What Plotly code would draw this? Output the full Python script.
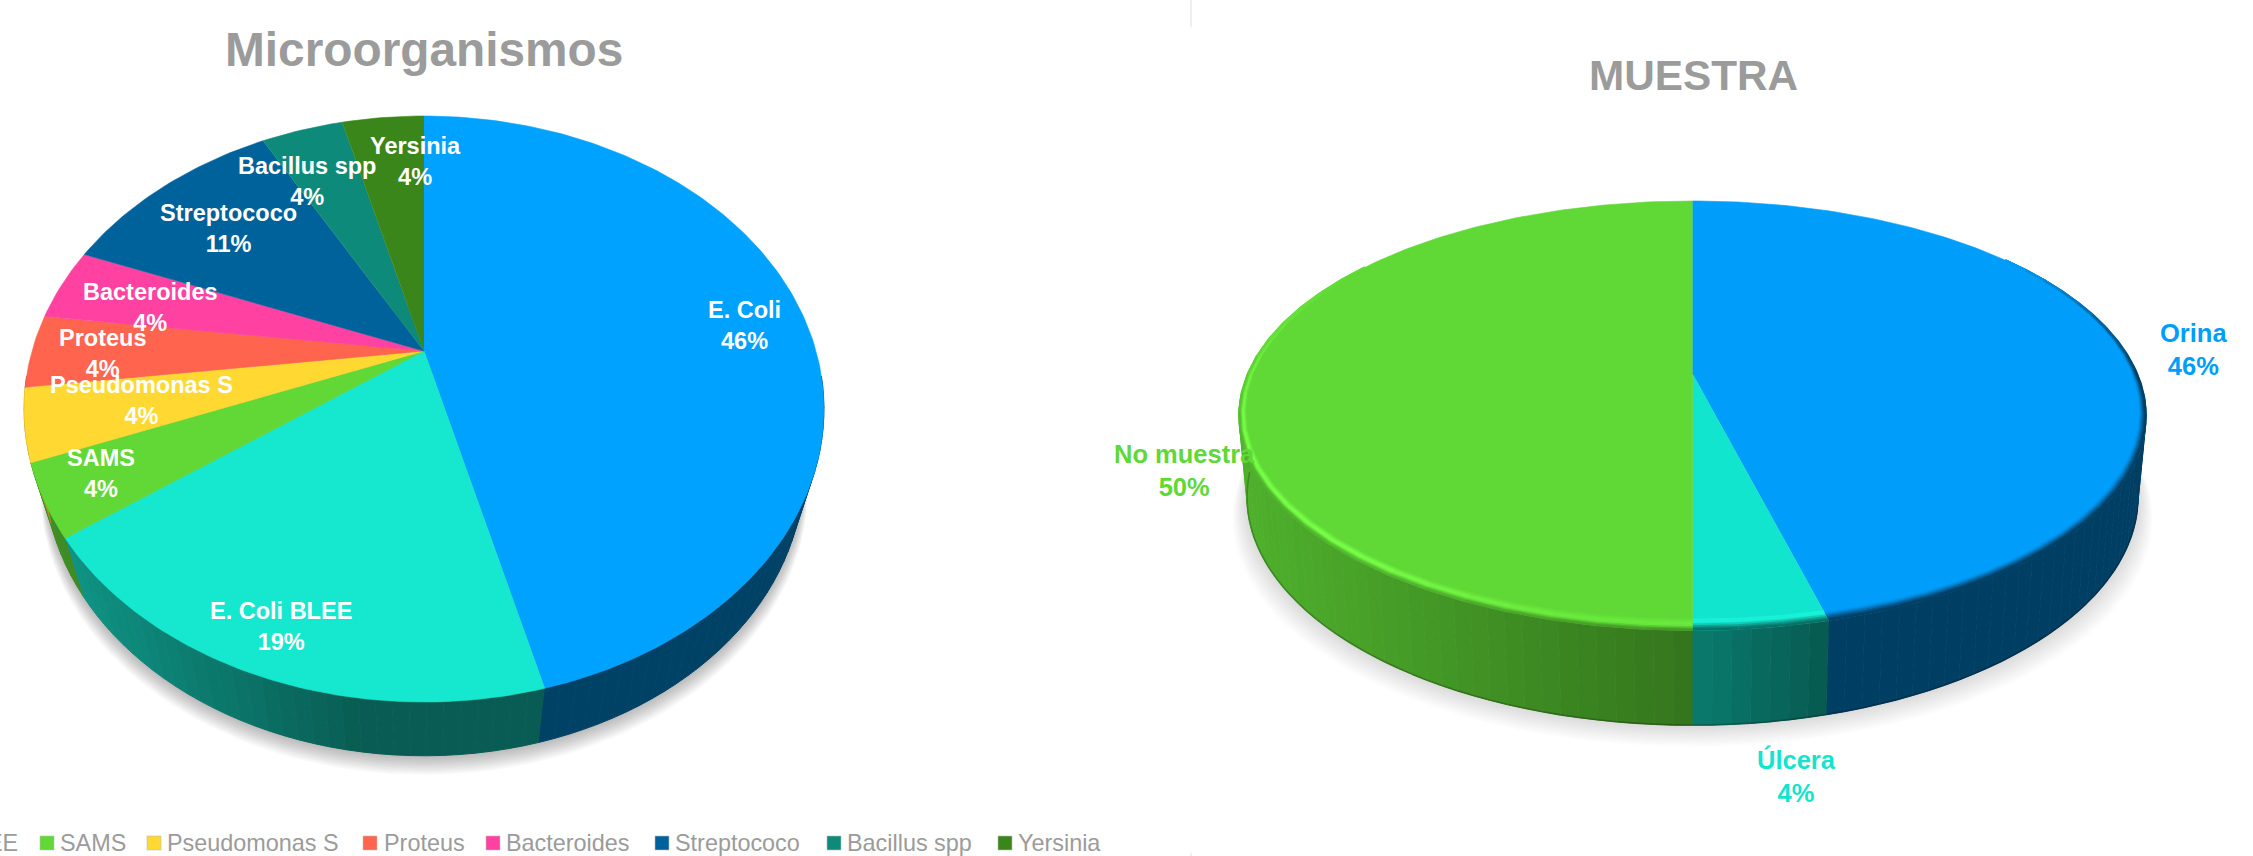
import math
import plotly.graph_objects as go

# Microorganismos: share of isolates, clockwise from twelve o'clock
micro_names = ["E. Coli", "E. Coli BLEE", "SAMS", "Pseudomonas S", "Proteus",
               "Bacteroides", "Streptococo", "Bacillus spp", "Yersinia"]
micro_values = [46, 19, 4, 4, 4, 4, 11, 4, 4]
micro_colors = ["#00A2FF", "#16E7CF", "#61D836", "#FFD932", "#FF644E",
                "#FF42A1", "#00629B", "#0E8A7A", "#3A861A"]

# Muestra: share by sample type
muestra_names = ["Orina", "Úlcera", "No muestra"]
muestra_values = [46, 4, 50]
muestra_colors = ["#009EFB", "#12E5CD", "#60D836"]

TEXT_GREY = "#9B9B9B"
FONT = "Liberation Sans"

# Projection of each disc: unit circle -> screen, with a vanishing term k
left_pie = dict(cx=424, top=(392, 281.5, 351), bottom=(372, 273.7, 414.5), k=0.198)
right_pie = dict(cx=1692.5, top=(445, 206.6, 374), bottom=(437, 219.6, 452.6), k=0.194)


def project(pie, face, angle_deg, r=1.0):
    a, b, y0 = pie[face]
    t = math.radians(angle_deg)
    u, v = r * math.sin(t), r * math.cos(t)
    d = 1 + pie["k"] * v
    return pie["cx"] + a * u / d, y0 - b * v / d


def hex_rgb(c):
    return tuple(int(c[i:i + 2], 16) for i in (1, 3, 5))


def shaded(c, f):
    return "#%02x%02x%02x" % tuple(max(0, min(255, round(x * f))) for x in hex_rgb(c))


def mix(c1, c2, w):
    a, b = hex_rgb(c1), hex_rgb(c2)
    return "#%02x%02x%02x" % tuple(round(x * (1 - w) + y * w) for x, y in zip(a, b))


def clamp(x, lo=0.0, hi=1.0):
    return max(lo, min(hi, x))


def arc(start, end, step=1.0):
    n = max(2, int(abs(end - start) / step) + 1)
    return [start + (end - start) * i / (n - 1) for i in range(n)]


fig = go.Figure()


def polygon(xs, ys, color, line_width=1.0):
    fig.add_trace(go.Scatter(
        x=xs, y=ys, mode="lines", fill="toself", fillcolor=color,
        line=dict(color=color, width=line_width), hoverinfo="skip", showlegend=False))


def polyline(xs, ys, color, width):
    fig.add_trace(go.Scatter(
        x=xs, y=ys, mode="lines", line=dict(color=color, width=width),
        hoverinfo="skip", showlegend=False))


def drop_shadow(pie, layers, alpha, grow, drop):
    a, b, y0 = pie["bottom"]
    for i in range(layers, 0, -1):
        scale_x = (a + grow * i) / a
        xs, ys = [], []
        for ang in arc(60, 300, 2):
            x, y = project(pie, "bottom", ang)
            xs.append(pie["cx"] + (x - pie["cx"]) * scale_x)
            ys.append(y + drop * i)
        polygon(xs, ys, "rgba(0,0,0,%.4f)" % alpha, 0)


def slice_spans(values):
    total = sum(values)
    spans, start = [], 0.0
    for v in values:
        end = start + 360.0 * v / total
        spans.append((start, end))
        start = end
    return spans


def draw_pie(pie, values, colors, shade_fn, half_width, edge_shade=None):
    spans = slice_spans(values)
    # Side wall, only the part that faces the viewer
    for (s, e), col in zip(spans, colors):
        lo, hi = max(s, 95), min(e, 265)
        if lo >= hi:
            continue
        angs = arc(lo, hi, 2)
        for a0, a1 in zip(angs[:-1], angs[1:]):
            p0, p1 = project(pie, "top", a0), project(pie, "top", a1)
            q0, q1 = project(pie, "bottom", a0), project(pie, "bottom", a1)
            t = (0.5 * (p0[0] + p1[0]) - pie["cx"]) / half_width
            wall = shaded(col, shade_fn(t))
            polygon([p0[0], p1[0], q1[0], q0[0]], [p0[1], p1[1], q1[1], q0[1]], wall, 1.0)
            if edge_shade:
                polyline([q0[0], q1[0]], [q0[1], q1[1]], shaded(wall, edge_shade), 1.6)
    # Top face
    for (s, e), col in zip(spans, colors):
        pts = [project(pie, "top", a) for a in arc(s, e)]
        apex = project(pie, "top", 0, 0)
        polygon([apex[0]] + [p[0] for p in pts], [apex[1]] + [p[1] for p in pts], col, 0.6)
    return spans


def inset_point(pie, ang, px):
    """Point on the top rim moved px screen pixels towards the disc centre."""
    x, y = project(pie, "top", ang)
    cx, cy = project(pie, "top", 0, 0)
    dist = math.hypot(x - cx, y - cy)
    return project(pie, "top", ang, 1 - px / dist)


def rim_band(pie, start, end, layers, color_at, inset_at, step=6):
    """Stack of short arcs that imitates a soft bevel along the rim."""
    angs = arc(start, end, step)
    for px, weight in layers:
        for a0, a1 in zip(angs[:-1], angs[1:]):
            mid = 0.5 * (a0 + a1)
            p0 = inset_point(pie, a0, px * inset_at(a0))
            p1 = inset_point(pie, a1, px * inset_at(a1))
            polyline([p0[0], p1[0]], [p0[1], p1[1]], color_at(mid, weight), 2.2)


# ---- Soft shadows under the discs
drop_shadow(left_pie, 12, 0.022, 0.35, 1.6)
drop_shadow(right_pie, 12, 0.012, 1.2, 1.8)


def left_shade(t):
    if t > -0.16:
        return 0.40
    return 0.40 + (-0.16 - t) / 0.84 * 0.27


def right_shade(t):
    if t >= 0.28:
        return 0.40
    if t >= 0:
        return 0.54 - t / 0.28 * 0.14
    return 0.54 - t * 0.28


draw_pie(left_pie, micro_values, micro_colors, left_shade, 400)
right_spans = draw_pie(right_pie, muestra_values, muestra_colors, right_shade, 454, edge_shade=0.78)

# ---- Bevelled rim on the right-hand disc
orina_span, ulcera_span, no_span = right_spans
NAVY = shaded(muestra_colors[0], 0.40)
TEAL_DARK = shaded(muestra_colors[1], 0.50)
BRIGHT_GREEN = "#78FF48"

dark_layers = [(7.5, 0.06), (6.2, 0.18), (5, 0.36), (3.8, 0.55), (2.6, 0.75), (1.4, 0.9), (0.4, 1.0)]
rim_band(right_pie, 52, orina_span[1], dark_layers,
         lambda a, w: mix(muestra_colors[0], NAVY, w * clamp((a - 52) / 38)),
         lambda a: clamp((a - 52) / 60, 0.12, 1.0), step=4)
rim_band(right_pie, ulcera_span[0], ulcera_span[1],
         [(8.5, -0.0), (7, 0.0), (4.6, 0.3), (3.2, 0.6), (1.8, 0.85), (0.5, 1.0)],
         lambda a, w: mix(mix(muestra_colors[1], "#1CF5DC", 0.7), TEAL_DARK, w),
         lambda a: 1.0, step=4)


def green_strength(a):
    # brightest on the lower-left sweep of the rim, dying away towards the top
    return clamp((a - 175) / 45, 0.45, 1.0) * clamp((305 - a) / 50)


def green_rim(a, w):
    s = green_strength(a)
    if w >= 0:
        return mix(muestra_colors[2], BRIGHT_GREEN, w * s)
    wall = shaded(muestra_colors[2], right_shade((project(right_pie, "top", a)[0] - right_pie["cx"]) / 454))
    return mix(mix(muestra_colors[2], BRIGHT_GREEN, 0.6 * s), wall, -w * clamp((a - 175) / 60, 0.75, 1.0) * clamp((285 - a) / 30))


rim_band(right_pie, no_span[0], 305,
         [(9, 0.2), (7.8, 0.5), (6.4, 0.85), (5.2, 1.0), (3.8, 0.8), (2.4, -0.3), (1.2, -0.65), (0.3, -0.9)],
         green_rim, lambda a: clamp((320 - a) / 90, 0.35, 1.0), step=5)

# ---- Legend of the left chart (the first entries run off the page)
legend_swatch_x = [47, 154, 370, 493, 662, 834, 1005]
legend_text_x = [59, 166, 382.5, 505, 674, 846, 1017]
legend_y = 843
fig.add_trace(go.Scatter(
    x=legend_swatch_x, y=[legend_y] * len(legend_swatch_x), mode="markers",
    marker=dict(symbol="square", size=14, color=micro_colors[2:],
                line=dict(color="#BDBDBD", width=0.6)),
    hoverinfo="skip", showlegend=False))

annotations = []


def add_text(x, y, text, size, color, bold=False, xanchor="center"):
    annotations.append(dict(
        x=x, y=y, xref="x", yref="y", text=f"<b>{text}</b>" if bold else text,
        showarrow=False, xanchor=xanchor, yanchor="middle", align="center",
        font=dict(family=FONT, size=size, color=color)))


add_text(20, legend_y, micro_names[1], 23.4, TEXT_GREY, xanchor="right")
for name, x in zip(micro_names[2:], legend_text_x):
    add_text(x - 1, legend_y, name, 23.4, TEXT_GREY, xanchor="left")

# ---- Titles
add_text(424, 49, "Microorganismos", 47.8, TEXT_GREY, bold=True)
add_text(1693, 75, "MUESTRA", 42.3, TEXT_GREY, bold=True)

# ---- Data labels
micro_label_pos = [(744, 325), (281, 626), (101, 473), (141, 400), (103, 353),
                   (150, 307), (228, 228), (307, 181), (415, 161)]
for name, val, pos in zip(micro_names, micro_values, micro_label_pos):
    add_text(pos[0], pos[1], f"{name}<br>{val}%", 23.5, "#FFFFFF", bold=True)

muestra_label_pos = [(2193, 349), (1796, 776), (1184, 470)]
for name, val, col, pos in zip(muestra_names, muestra_values, muestra_colors, muestra_label_pos):
    add_text(pos[0], pos[1], f"{name}<br>{val}%", 25.5, col, bold=True)

fig.update_layout(
    width=2253, height=856, autosize=False,
    margin=dict(l=0, r=0, t=0, b=0),
    paper_bgcolor="#FFFFFF", plot_bgcolor="#FFFFFF",
    showlegend=False,
    xaxis=dict(range=[0, 2253], visible=False, fixedrange=True),
    yaxis=dict(range=[856, 0], visible=False, fixedrange=True),
    annotations=annotations,
    shapes=[
        dict(type="line", xref="x", yref="y", x0=1191, x1=1191, y0=0, y1=27,
             line=dict(color="#E8E8E8", width=1.5)),
        dict(type="line", xref="x", yref="y", x0=1191, x1=1191, y0=853, y1=856,
             line=dict(color="#E8E8E8", width=1.5)),
    ],
)

fig.write_html("out.html")
